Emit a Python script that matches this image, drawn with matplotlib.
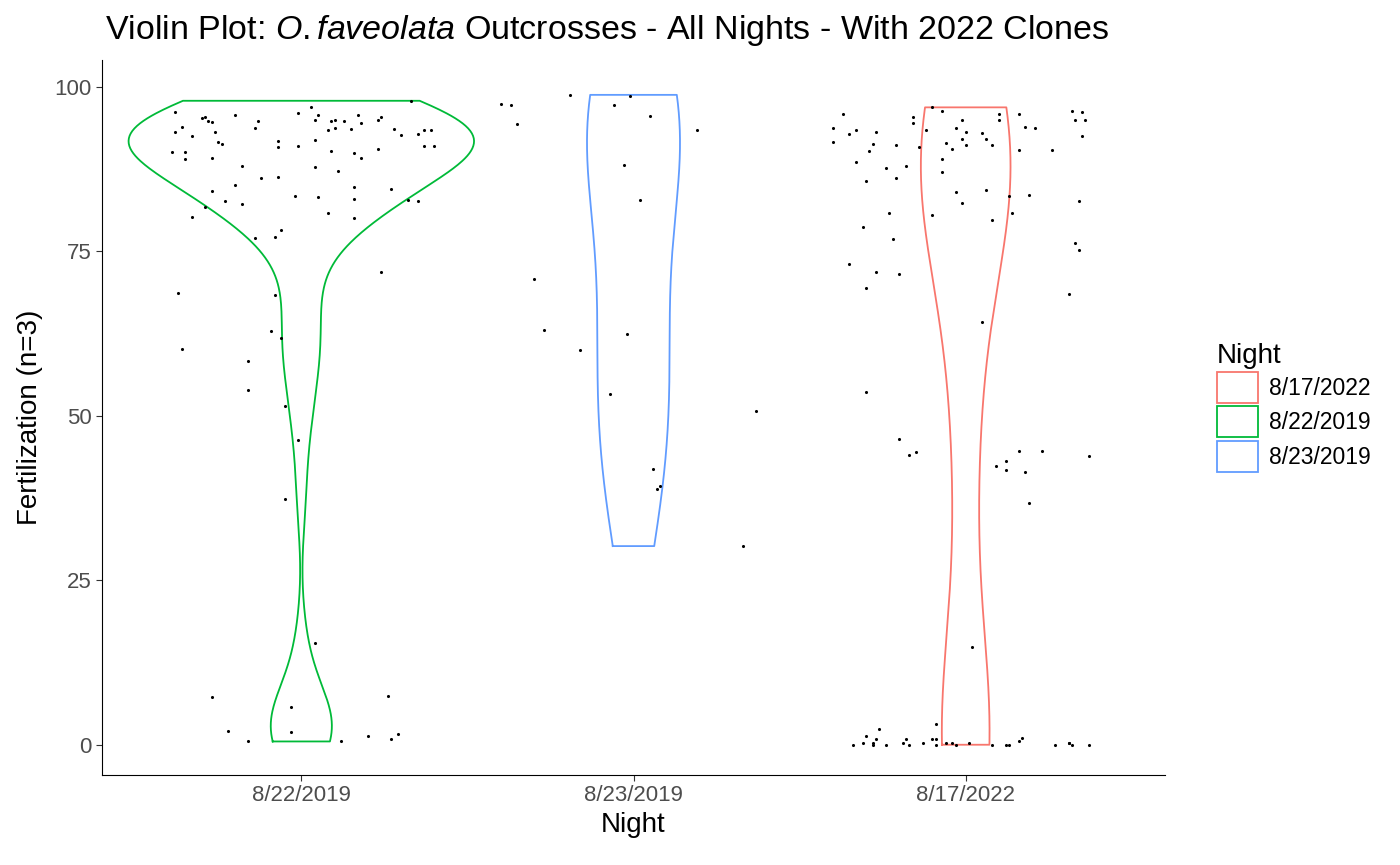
import numpy as np
import matplotlib
matplotlib.use("Agg")
import matplotlib.pyplot as plt
from matplotlib.patches import Patch

plt.rcParams['font.family'] = ['Liberation Sans', 'DejaVu Sans']
plt.rcParams['mathtext.fontset'] = 'custom'
plt.rcParams['mathtext.it'] = 'Liberation Sans:italic'
plt.rcParams['mathtext.rm'] = 'Liberation Sans'

nights = ['8/22/2019', '8/23/2019', '8/17/2022']
colors = {'8/17/2022': '#F8766D', '8/22/2019': '#00BA38', '8/23/2019': '#619CFF'}
legend_order = ['8/17/2022', '8/22/2019', '8/23/2019']
# max half-width of each violin, in category units
half_width = {'8/22/2019': 0.52, '8/23/2019': 0.14, '8/17/2022': 0.135}

# jittered points: (x offset in category units, fertilization %)
green_pts = [
    (-0.38, 96.2), (-0.30, 95.3), (-0.29, 95.4), (-0.20, 95.7), (-0.13, 94.8), (-0.01, 96.0),
    (0.03, 96.9), (0.05, 95.8), (0.04, 95.0), (0.10, 95.0), (0.09, 94.8), (0.13, 94.9),
    (0.17, 95.7), (0.18, 94.5), (0.23, 95.0), (0.24, 95.4), (0.33, 97.9), (-0.28, 94.8),
    (-0.27, 94.7), (-0.38, 93.2), (-0.36, 93.9), (-0.33, 92.6), (-0.26, 93.2), (-0.14, 93.8),
    (0.08, 93.5), (0.10, 93.8), (0.15, 93.6), (0.28, 93.6), (0.30, 92.7), (0.35, 92.9),
    (0.37, 93.5), (-0.25, 91.7), (-0.24, 91.4), (-0.07, 91.8), (-0.07, 90.9), (-0.01, 91.0),
    (0.04, 91.9), (0.37, 91.0), (-0.39, 90.1), (-0.35, 90.1), (-0.35, 89.1), (-0.27, 89.2),
    (0.09, 90.3), (0.16, 90.0), (0.18, 89.2), (0.23, 90.6), (-0.18, 88.0), (0.04, 87.8),
    (0.11, 87.2), (-0.12, 86.2), (-0.07, 86.3), (-0.20, 85.1), (0.16, 84.8), (0.27, 84.5),
    (-0.27, 84.2), (-0.23, 82.7), (-0.18, 82.2), (-0.02, 83.4), (0.05, 83.3), (0.16, 82.9),
    (0.32, 82.8), (0.35, 82.7), (-0.29, 81.7), (0.08, 80.8), (0.16, 80.1), (-0.33, 80.2),
    (-0.06, 78.2), (0.39, 93.5), (0.40, 91.0), (-0.37, 68.7), (-0.36, 60.2), (-0.09, 62.9),
    (-0.08, 68.4), (-0.06, 61.8), (-0.16, 58.4), (-0.16, 54.0), (-0.05, 51.5), (-0.01, 46.3),
    (-0.05, 37.3), (-0.14, 77.1), (-0.08, 77.2), (0.24, 71.8), (0.04, 15.5), (-0.27, 7.3),
    (-0.22, 2.1), (-0.16, 0.6), (-0.03, 5.8), (-0.03, 2.0), (0.12, 0.5), (0.20, 1.4),
    (0.26, 7.4), (0.27, 0.9), (0.29, 1.6)]
blue_pts = [
    (-0.40, 97.4), (-0.37, 97.3), (-0.35, 94.4), (-0.19, 98.8), (-0.06, 97.3), (-0.01, 98.6),
    (0.05, 95.6), (-0.03, 88.1), (0.02, 82.8), (0.19, 93.5), (-0.30, 70.8), (-0.27, 63.1),
    (-0.16, 60.0), (-0.07, 53.3), (-0.02, 62.5), (0.07, 38.9), (0.08, 39.4), (0.06, 41.9),
    (0.33, 30.2), (0.37, 50.8)]
red_pts = [
    (-0.37, 95.9), (-0.40, 93.8), (-0.40, 91.6), (-0.35, 92.8), (-0.33, 93.4), (-0.27, 93.1),
    (-0.28, 91.3), (-0.29, 90.3), (-0.21, 91.2), (-0.33, 88.6), (-0.24, 87.7), (-0.18, 88.0),
    (-0.21, 86.2), (-0.30, 85.7), (-0.16, 95.4), (-0.16, 94.5), (-0.10, 96.9), (-0.07, 96.4),
    (-0.12, 93.5), (-0.14, 90.9), (-0.03, 93.7), (-0.01, 95.0), (0.00, 93.2), (-0.06, 91.5),
    (-0.01, 92.1), (0.00, 91.2), (-0.04, 90.6), (-0.07, 89.1), (-0.07, 87.0), (0.05, 93.0),
    (0.06, 92.1), (0.08, 91.2), (0.10, 95.0), (0.10, 95.9), (0.16, 95.9), (0.18, 93.9),
    (0.21, 93.8), (0.16, 90.4), (0.26, 90.4), (0.32, 96.4), (0.35, 96.2), (0.33, 95.0),
    (0.36, 95.0), (0.35, 92.6), (-0.03, 84.0), (-0.01, 82.4), (0.06, 84.3), (0.13, 83.4),
    (0.19, 83.6), (0.34, 82.7), (-0.23, 80.8), (-0.10, 80.5), (0.08, 79.7), (0.14, 80.8),
    (-0.31, 78.7), (-0.22, 76.9), (0.33, 76.3), (0.34, 75.2), (-0.35, 73.1), (-0.30, 69.5),
    (-0.27, 71.8), (-0.20, 71.5), (0.05, 64.3), (0.31, 68.5), (-0.30, 53.6), (-0.20, 46.5),
    (-0.17, 44.1), (-0.15, 44.5), (0.12, 41.7), (0.12, 43.1), (0.09, 42.4), (0.18, 41.5),
    (0.16, 44.6), (0.19, 36.8), (0.23, 44.6), (0.37, 43.9), (0.02, 14.9), (-0.09, 3.1),
    (-0.34, 0.0), (-0.31, 0.2), (-0.30, 1.4), (-0.28, 0.3), (-0.28, 0.0), (-0.27, 0.9),
    (-0.26, 2.4), (-0.24, 0.0), (-0.19, 0.2), (-0.18, 0.9), (-0.17, 0.0), (-0.13, 0.3),
    (-0.10, 0.8), (-0.09, 0.8), (-0.09, 0.0), (-0.06, 0.2), (-0.04, 0.2), (-0.03, 0.0),
    (0.01, 0.3), (0.08, 0.0), (0.12, 0.0), (0.13, 0.0), (0.16, 0.5), (0.17, 1.1),
    (0.27, 0.0), (0.31, 0.2), (0.31, 0.2), (0.32, 0.0), (0.37, 0.0)]
groups = {'8/22/2019': green_pts, '8/23/2019': blue_pts, '8/17/2022': red_pts}


def kde(vals, grid, adjust=1.0):
    vals = np.asarray(vals)
    sd = vals.std(ddof=1)
    iqr = np.subtract(*np.percentile(vals, [75, 25]))
    bw = adjust * 0.9 * min(sd, iqr / 1.34) * len(vals) ** -0.2
    d = np.exp(-0.5 * ((grid[:, None] - vals[None, :]) / bw) ** 2).sum(1)
    return d / (len(vals) * bw * np.sqrt(2 * np.pi))


fig = plt.figure(figsize=(14, 8.65), dpi=100)
ax = fig.add_axes([102 / 1400, 90 / 865, 1063 / 1400, 715 / 865])

for i, n in enumerate(nights, start=1):
    v = [p[1] for p in groups[n]]
    g = np.linspace(min(v), max(v), 512)
    d = kde(v, g, adjust=1.3)
    w = d / d.max() * half_width[n]
    xs = np.concatenate([i - w, (i + w)[::-1], [i - w[0]]])
    ys = np.concatenate([g, g[::-1], [g[0]]])
    ax.plot(xs, ys, color=colors[n], lw=1.3, zorder=2)
    pts = np.array(groups[n])
    ax.scatter(i + pts[:, 0], pts[:, 1], s=5, color='black', zorder=3, lw=0)

ax.set_xlim(0.4, 3.6)
ax.set_ylim(-4.6, 104.1)
ax.set_xticks([1, 2, 3])
ax.set_xticklabels(nights)
ax.set_yticks([0, 25, 50, 75, 100])
ax.tick_params(labelsize=16, colors='#4D4D4D', length=4)
ax.tick_params(color='#333333')
for s in ['top', 'right']:
    ax.spines[s].set_visible(False)
ax.set_xlabel('Night', fontsize=20, labelpad=4)
ax.set_ylabel('Fertilization (n=3)', fontsize=20, labelpad=8)
fig.text(105 / 1400, 1 - 31 / 865, r'Violin Plot: $\it{O.faveolata}$ Outcrosses - All Nights - With 2022 Clones',
         fontsize=24.5, va='center', ha='left')

handles = [Patch(facecolor='white', edgecolor=colors[n], lw=1.3, label=n) for n in legend_order]
leg = fig.legend(handles=handles, title='Night', loc='upper left', bbox_to_anchor=(1196 / 1400, 1 - 322 / 865),
                 frameon=False, fontsize=16.5, title_fontsize=20, handlelength=1.8, handleheight=1.7,
                 labelspacing=0.15, handletextpad=0.5, alignment='left')

fig.savefig('out.png', dpi=100)
